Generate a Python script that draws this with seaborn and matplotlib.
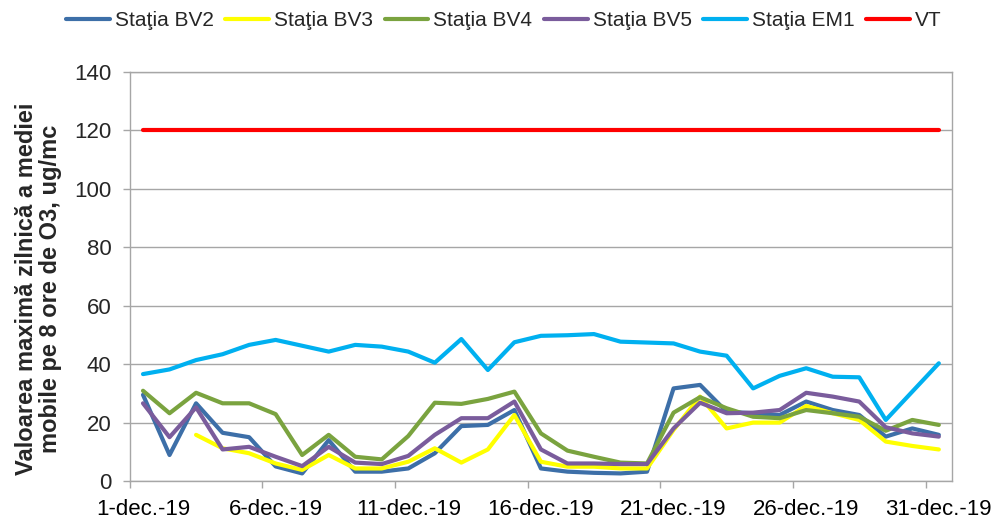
import pandas as pd
import matplotlib
matplotlib.use("Agg")
import matplotlib.pyplot as plt
import seaborn as sns
from matplotlib.ticker import MultipleLocator, FixedLocator

# zilele lunii decembrie 2019
zile = list(range(1, 32))

bv2 = [29.5, 8.9, 26.6, 16.5, 15.0, 5.0, 2.6, 14.0, 3.2, 3.2, 4.3, 9.5, 18.8, 19.2, 24.3, 4.3,
       3.2, 2.8, 2.6, 3.2, 31.7, 32.9, 23.7, 23.2, 22.6, 27.2, 24.3, 22.6, 15.2, 18.0, 15.8]
bv3 = [None, None, 15.8, 11.2, 9.5, 6.0, 3.8, 8.9, 4.3, 4.3, 6.6, 11.2, 6.3, 10.8, 22.6, 6.6,
       4.9, 4.9, 4.3, 4.3, 17.5, 28.9, 18.0, 20.0, 20.0, 25.7, 23.2, 20.9, 13.5, 12.0, 10.8]
bv4 = [30.9, 23.2, 30.2, 26.6, 26.6, 22.9, 8.9, 15.8, 8.3, 7.4, 15.4, 26.8, 26.4, 28.1, 30.6, 16.3,
       10.4, 8.3, 6.3, 6.0, 23.4, 28.7, 24.9, 22.0, 21.5, 24.3, 23.2, 22.0, 17.2, 20.9, 19.2]
bv5 = [26.6, 15.0, 25.2, 10.8, 11.7, 8.3, 5.1, 11.7, 6.3, 5.8, 8.6, 15.8, 21.5, 21.5, 27.2, 10.8,
       6.0, 6.0, 5.8, 5.8, 18.0, 26.8, 23.2, 23.4, 24.3, 30.2, 28.9, 27.2, 18.4, 16.3, 15.2]
em1 = [36.6, 38.2, 41.4, 43.4, 46.6, 48.3, 46.3, 44.3, 46.6, 46.0, 44.3, 40.5, 48.6, 38.0, 47.5, 49.7,
       49.9, 50.3, 47.7, 47.4, 47.1, 44.3, 42.9, 31.7, 36.0, 38.6, 35.7, 35.5, 20.9, 30.6, 40.3]
vt = [120] * 31

statii = ["Staţia BV2", "Staţia BV3", "Staţia BV4", "Staţia BV5", "Staţia EM1", "VT"]
culori = ["#3D6FA8", "#FFFF00", "#7AA33F", "#7A5C9C", "#00B0F0", "#FF0000"]

df = pd.DataFrame({"zi": zile, statii[0]: bv2, statii[1]: bv3, statii[2]: bv4,
                   statii[3]: bv5, statii[4]: em1, statii[5]: vt})
df_long = df.melt(id_vars="zi", var_name="statie", value_name="valoare").dropna()
df_long["idx"] = df_long["zi"] - 1

sns.set_theme(style="white")
plt.rcParams["font.family"] = ["Liberation Sans", "DejaVu Sans"]

fig = plt.figure(figsize=(9.98, 5.19), dpi=100)
ax = fig.add_axes([0.130, 0.0732, 0.824, 0.788])

sns.lineplot(data=df_long, x="idx", y="valoare", hue="statie", hue_order=statii,
             palette=dict(zip(statii, culori)), linewidth=3, ax=ax, legend=True)

ax.set_xlim(-0.5, 30.5)
ax.set_ylim(0, 140)
ax.yaxis.set_major_locator(MultipleLocator(20))
ax.grid(axis="y", color="#A6A6A6", linewidth=1)
ax.set_axisbelow(True)

etichete_x = [f"{z}-dec.-19" for z in zile[::5]]
ax.xaxis.set_major_locator(FixedLocator(list(range(0, 31, 5))))
ax.set_xticklabels(etichete_x)
ax.xaxis.set_minor_locator(FixedLocator([i - 0.5 for i in range(0, 31, 5)]))
ax.tick_params(axis="x", which="major", length=0, pad=13, labelsize=16, colors="black")
ax.tick_params(axis="x", which="minor", length=5, width=1, color="#A6A6A6", direction="out", bottom=True)
ax.tick_params(axis="y", which="major", length=5, width=1, color="#A6A6A6", direction="out",
               left=True, labelsize=16, pad=8)

for s in ax.spines.values():
    s.set_color("#A6A6A6")
    s.set_linewidth(1)

ax.set_xlabel("")
ax.set_ylabel("Valoarea maximă zilnică a mediei\nmobile pe 8 ore de O3, ug/mc",
              fontsize=17, fontweight="bold", linespacing=1.05)
ax.yaxis.set_label_coords(-0.082, 0.47)

h, l = ax.get_legend_handles_labels()
ax.legend(h, l, loc="center", bbox_to_anchor=(0.455, 1.125), ncol=6, frameon=False,
          fontsize=15, handlelength=2.1, handletextpad=0.25, columnspacing=0.55)

plt.savefig("out.png", dpi=100)
